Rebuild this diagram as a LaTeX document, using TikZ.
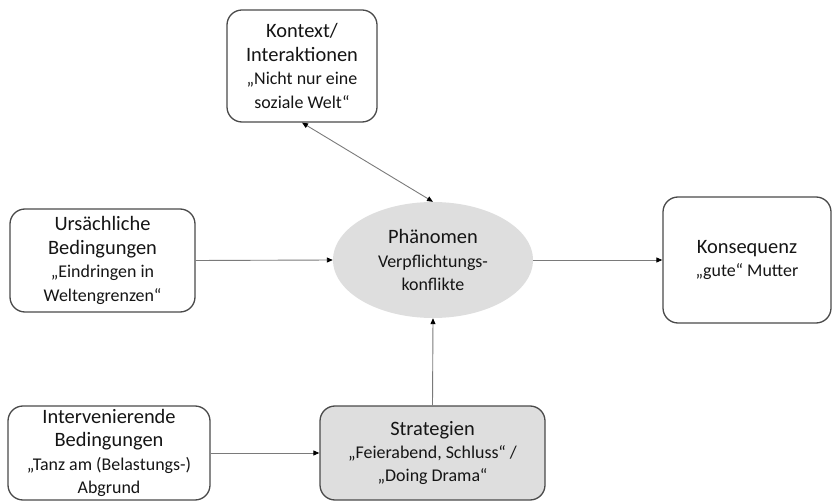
\documentclass[tikz,border=0pt]{standalone}
\usepackage{fontspec}
\setmainfont{Carlito}
\usetikzlibrary{arrows.meta,shapes.geometric}
\newcommand\maintx{\fontsize{20.5}{23.5}\selectfont}
\newcommand\subtx{\fontsize{18}{23.5}\selectfont}
\definecolor{boxline}{HTML}{4A4A4A}
\definecolor{txt}{HTML}{151515}
\definecolor{conn}{HTML}{7A7A7A}
\definecolor{fillgray}{HTML}{DEDEDE}
\tikzset{
  box/.style={draw=boxline, line width=1.3bp, rounded corners=15bp, align=center,
    text=txt, inner sep=2bp, fill=white, font=\maintx},
  grayfill/.style={fill=fillgray},
  phenshape/.style={ellipse, draw=none, fill=fillgray, align=center, text=txt, inner sep=0pt, font=\maintx},
  conn/.style={draw=conn, line width=0.9bp, -{Triangle[length=6bp,width=5bp,color=black]}},
  bconn/.style={draw=conn, line width=0.9bp, {Triangle[length=6bp,width=5bp,color=black]}-{Triangle[length=6bp,width=5bp,color=black]}}
}
\begin{document}
\begin{tikzpicture}[x=1bp,y=-1bp]
\useasboundingbox (0,0) rectangle (832,502);
\node[box, minimum width=150bp, minimum height=112bp] (kon) at (302,66)
  {Kontext/\\ Interaktionen\\ \subtx „Nicht nur eine\\ \subtx soziale Welt“};
\node[phenshape, minimum width=200bp, minimum height=116bp] (phen) at (433,260)
  {Phänomen\\ \subtx Verpflichtungs-\\ \subtx konflikte};
\node[box, minimum width=185bp, minimum height=103bp] (urs) at (102.5,260.5)
  {Ursächliche\\ Bedingungen\\ \subtx „Eindringen in\\ \subtx Weltengrenzen“};
\node[box, minimum width=168bp, minimum height=126bp] (kons) at (747,260)
  {Konsequenz\\ \subtx „gute“ Mutter};
\node[box, minimum width=202bp, minimum height=94bp] (int) at (109,453)
  {Intervenierende\\ Bedingungen\\ \subtx „Tanz am (Belastungs-)\\ \subtx Abgrund};
\node[box, grayfill, minimum width=225bp, minimum height=94bp] (str) at (432.5,453)
  {Strategien\\ \subtx „Feierabend, Schluss“ /\\ \subtx „Doing Drama“};
\draw[bconn] (kon.south) -- (phen.north);
\draw[conn] (urs.east) -- (phen.west);
\draw[conn] (phen.east) -- (kons.west);
\draw[conn] (int.east) -- (str.west);
\draw[conn] (str.north) -- (phen.south);
\end{tikzpicture}
\end{document}
